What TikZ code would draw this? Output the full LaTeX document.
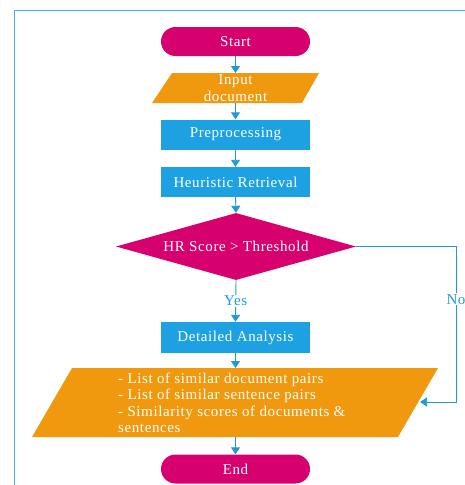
\documentclass[tikz,border=0pt]{standalone}
\usepackage{fontspec}
\setmainfont{Liberation Serif}[LetterSpace=4]
\usetikzlibrary{arrows.meta,shapes.geometric}
\definecolor{mag}{HTML}{D6006F}
\definecolor{org}{HTML}{F0980E}
\definecolor{blu}{HTML}{1DA1E2}
\definecolor{arr}{HTML}{1E9AD6}
\definecolor{frm}{HTML}{45B0E8}
\tikzset{
  term/.style={fill=mag, rounded corners=14.5pt, minimum width=149pt, minimum height=29pt, text=white, font=\fontsize{15}{16.5}\selectfont, inner sep=0pt},
  proc/.style={fill=blu, minimum width=149pt, minimum height=30pt, text=white, font=\fontsize{15}{16.5}\selectfont, inner sep=0pt},
  txt/.style={text=white, font=\fontsize{15}{16.5}\selectfont, inner sep=0pt},
  conn/.style={draw=arr, line width=0.9pt, -{Triangle[width=9pt,length=7pt]}},
  lbl/.style={fill=white, text=arr, font=\fontsize{15}{16.5}\selectfont, inner sep=1pt}
}
\begin{document}
\begin{tikzpicture}[x=1pt,y=-1pt]
\useasboundingbox (0,0) rectangle (465,485);
\draw[frm, line width=0.9pt] (14,10) rectangle (480,500);
% shapes
\node[term] (start) at (235.5,41.5) {Start};
\fill[org] (172,73) -- (319,73) -- (302,103) -- (152,103) -- cycle;
\node[txt, align=center] (input) at (235.5,88) {Input\\document};
\node[proc] (pre) at (235.5,134.5) {Preprocessing};
\node[proc] (hr) at (235.5,182) {Heuristic Retrieval};
\node[diamond, fill=mag, minimum width=240pt, minimum height=67pt, inner sep=0pt, aspect=3.6] (dec) at (236,246.5) {};
\node[txt] at (236,246.5) {HR Score > Threshold};
\node[proc, minimum height=31pt] (da) at (235.5,337.5) {Detailed Analysis};
\fill[org] (72,368) -- (438,368) -- (398,437) -- (32,437) -- cycle;
\node[txt, align=left, anchor=west] (out) at (118,403) {- List of similar document pairs\\- List of similar sentence pairs\\- Similarity scores of documents \&\\sentences};
\node[term] (end) at (235.5,469) {End};
\coordinate (intop) at (235.5,73);
\coordinate (inbot) at (235.5,103);
\coordinate (outtop) at (235.5,368);
\coordinate (outbot) at (235.5,437);
\coordinate (noend) at (420,402);
% connectors
\draw[conn] (start.south) -- (intop);
\draw[conn] (inbot) -- (pre.north);
\draw[conn] (pre.south) -- (hr.north);
\draw[conn] (hr.south) -- (dec.north);
\draw[conn] (dec.south) -- node[lbl, pos=0.5] {Yes} (da.north);
\draw[conn] (da.south) -- (outtop);
\draw[conn] (outbot) -- (end.north);
\draw[conn, line width=0.7pt] (dec.east) -- (456,246.5) -- node[lbl, pos=0.34] {No} (456,402) -- (noend);
\end{tikzpicture}
\end{document}
